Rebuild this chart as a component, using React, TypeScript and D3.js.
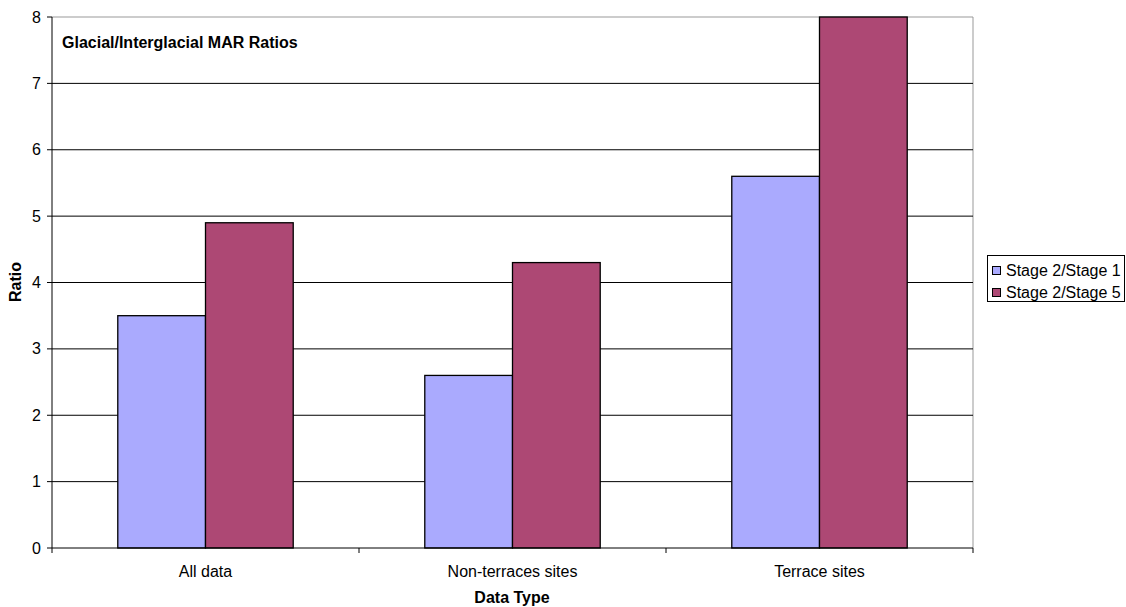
import React from "react";
import * as d3 from "d3";

const categories = ["All data", "Non-terraces sites", "Terrace sites"];
const seriesNames = ["Stage 2/Stage 1", "Stage 2/Stage 5"];
const stage21 = [3.5, 2.6, 5.6];
const stage25 = [4.9, 4.3, 8.0];
const yTicks = [0, 1, 2, 3, 4, 5, 6, 7, 8];
const colors = ["#aaaafe", "#ad4874"];

export default function App() {
  const W = 1126, H = 607;
  const left = 52, right = 973, top = 17, bottom = 548;
  const x = d3.scaleBand<string>().domain(categories).range([left, right]).paddingInner(0).paddingOuter(0);
  const y = d3.scaleLinear().domain([0, 8]).range([bottom, top]);
  const bw = x.bandwidth();
  const barW = bw / 3.5;
  const series = [stage21, stage25];
  const font = "Arial, 'Liberation Sans', sans-serif";
  return (
    <svg width={W} height={H} style={{ position: "absolute", left: 0, top: 0, fontFamily: font }}>
      <rect x={0} y={0} width={W} height={H} fill="#fff" />
      <line x1={left} x2={right} y1={top} y2={top} stroke="#999" strokeWidth={1} />
      <line x1={right} x2={right} y1={top} y2={bottom} stroke="#999" strokeWidth={1} />
      {yTicks.filter((t) => t > 0 && t < 8).map((t) => (
        <line key={t} x1={left} x2={right} y1={y(t)} y2={y(t)} stroke="#000" strokeWidth={1} />
      ))}
      {categories.map((c, ci) =>
        series.map((s, si) => {
          const x0 = (x(c) as number) + bw / 2 - barW + si * barW;
          return (
            <rect key={c + si} x={x0} y={y(s[ci])} width={barW} height={y(0) - y(s[ci])}
              fill={colors[si]} stroke="#000" strokeWidth={1.3} />
          );
        })
      )}
      <line x1={left} x2={left} y1={top} y2={bottom} stroke="#000" strokeWidth={1} />
      <line x1={left} x2={right} y1={bottom} y2={bottom} stroke="#000" strokeWidth={1} />
      {yTicks.map((t) => (
        <g key={t}>
          <line x1={left - 5} x2={left} y1={y(t)} y2={y(t)} stroke="#000" />
          <text x={41} y={y(t)} dy="0.35em" textAnchor="end" fontSize={16} fill="#000">{t}</text>
        </g>
      ))}
      {[0, 1, 2, 3].map((i) => {
        const xx = left + i * bw;
        return <line key={i} x1={xx} x2={xx} y1={bottom} y2={bottom + 5} stroke="#000" />;
      })}
      {categories.map((c) => (
        <text key={c} x={(x(c) as number) + bw / 2} y={577} textAnchor="middle" fontSize={16} fill="#000">{c}</text>
      ))}
      <text x={512} y={603} textAnchor="middle" fontSize={16} fontWeight="bold" fill="#000">Data Type</text>
      <text transform={`translate(21,282) rotate(-90)`} textAnchor="middle" fontSize={16} fontWeight="bold" fill="#000">Ratio</text>
      <text x={62} y={48} fontSize={16} fontWeight="bold" fill="#000">Glacial/Interglacial MAR Ratios</text>
      <rect x={987.5} y={255.5} width={137} height={46} fill="#fff" stroke="#000" strokeWidth={1} />
      {seriesNames.map((n, i) => (
        <g key={n}>
          <rect x={992.5} y={266.5 + i * 22} width={8} height={8} fill={colors[i]} stroke="#000" strokeWidth={1} />
          <text x={1006} y={270 + i * 22} dy="0.35em" fontSize={16} fill="#000">{n}</text>
        </g>
      ))}
    </svg>
  );
}
